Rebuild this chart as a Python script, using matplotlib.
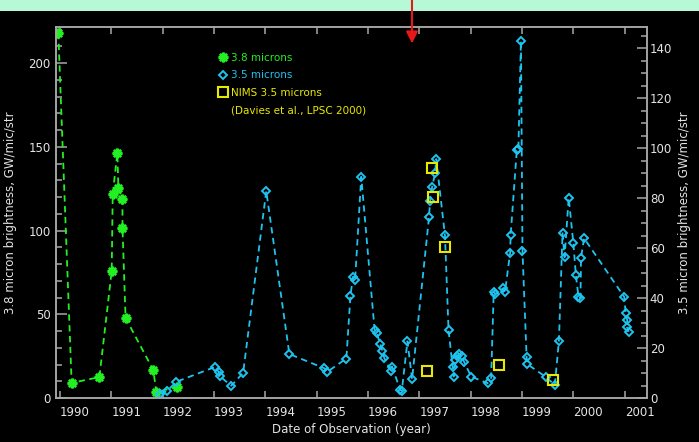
import matplotlib
matplotlib.use('Agg')
import matplotlib.pyplot as plt
from matplotlib.lines import Line2D
from matplotlib.patches import Rectangle, FancyArrowPatch
from matplotlib.transforms import ScaledTranslation

# 3.8 micron brightness (left axis)
years_38 = [1989.97, 1990.23, 1990.77, 1991.01, 1991.03, 1991.12, 1991.14,
            1991.22, 1991.22, 1991.28, 1991.82, 1991.88, 1992.29]
bright_38 = [218, 9, 12.5, 75.8, 121.8, 146.3, 125.4,
             118.8, 101.5, 47.8, 16.7, 3.6, 6.6]

# 3.5 micron brightness (right axis)
years_35 = [1991.96, 1992.09, 1992.27, 1993.03, 1993.09, 1993.11, 1993.34,
            1993.57, 1994.02, 1994.47, 1995.15, 1995.21, 1995.58, 1995.66,
            1995.71, 1995.75, 1995.87, 1996.13, 1996.17, 1996.24, 1996.28,
            1996.32, 1996.45, 1996.47, 1996.63, 1996.66, 1996.77, 1996.86,
            1997.19, 1997.21, 1997.25, 1997.31, 1997.33, 1997.50, 1997.57,
            1997.65, 1997.67, 1997.70, 1997.73, 1997.78, 1997.83, 1997.87,
            1998.01, 1998.33, 1998.40, 1998.45, 1998.48, 1998.64, 1998.67,
            1998.77, 1998.78, 1998.90, 1998.93, 1998.98, 1999.01, 1999.09,
            1999.10, 1999.46, 1999.64, 1999.72, 1999.79, 1999.83, 1999.91,
            2000.00, 2000.05, 2000.10, 2000.14, 2000.15, 2000.21, 2000.99,
            2001.02, 2001.05, 2001.04, 2001.08]
bright_35 = [1.6, 2.9, 6.5, 12.5, 10.5, 8.8, 4.9,
             10.1, 82.8, 17.6, 11.9, 10.5, 15.8, 41.0,
             48.5, 47.2, 88.5, 27.2, 26.0, 21.6, 18.9,
             15.9, 10.9, 12.6, 3.2, 2.9, 22.7, 7.5,
             72.3, 78.8, 84.4, 90.0, 95.6, 65.1, 27.2,
             12.5, 8.6, 15.2, 16.8, 17.6, 16.8, 14.6,
             8.6, 5.9, 8.1, 42.5, 41.6, 44.0, 42.5,
             58.2, 65.4, 99.2, 99.6, 142.9, 58.8, 16.5,
             13.6, 8.5, 5.2, 23.0, 65.9, 56.3, 80.1,
             62.1, 49.2, 40.5, 40.1, 56.1, 63.9, 40.5,
             33.9, 31.2, 28.5, 26.5]

# NIMS 3.5 micron values (Davies et al., LPSC 2000)
years_nims = [1997.15, 1997.25, 1997.26, 1997.50, 1998.56, 1999.61]
bright_nims = [10.9, 91.9, 80.5, 60.3, 13.2, 7.2]

year_ticks = list(range(1990, 2002))
left_ticks = [0, 50, 100, 150, 200]
right_ticks = [0, 20, 40, 60, 80, 100, 120, 140]

green = "#22f022"
cyan = "#1ec4f0"
yellow = "#e8e800"
frame = "#a8a8a8"
txt = "#e4e4e4"

fig = plt.figure(figsize=(6.99, 4.42), dpi=100, facecolor="black")
# mint strip across the top of the picture
fig.patches.append(Rectangle((0, 0.975), 1, 0.025, transform=fig.transFigure,
                             facecolor="#b6f9d6", edgecolor="none", zorder=0))

ax = fig.add_axes([0.0801, 0.0995, 0.8455, 0.8394], facecolor="black")
ax2 = ax.twinx()

dash = (0, (3.5, 2.5))
ax.plot(years_38, bright_38, color=green, lw=1.3, linestyle=dash,
        marker=(8, 2, 0), ms=7, mew=1.8, mec=green, label="3.8 microns")
ax2.plot(years_35, bright_35, color=cyan, lw=1.3, linestyle=dash,
         marker="D", ms=4, mew=1.4, mec=cyan, mfc="none", label="3.5 microns")
ax2.plot(years_nims, bright_nims, ls="none", marker="s", ms=7, mew=1.5,
         mec=yellow, mfc="none", label="NIMS 3.5 microns")

ax.set_xlim(1989.925, 2001.435)
ax.set_ylim(0, 221.5)
ax2.set_ylim(0, 148.4)

ax.set_xticks(year_ticks)
ax.set_xticklabels([str(y) for y in year_ticks], ha="left")
for lab in ax.get_xticklabels():
    lab.set_transform(lab.get_transform() + ScaledTranslation(-0.05, 0, fig.dpi_scale_trans))
ax.set_yticks(left_ticks)
ax.set_yticks(range(0, 221, 10), minor=True)
ax2.set_yticks(right_ticks)
ax2.set_yticks(range(0, 146, 5), minor=True)

ax.tick_params(axis="x", which="major", direction="in", length=5, width=1.1,
               top=True, bottom=True, colors=frame, labelcolor=txt,
               labelsize=8.5, pad=6)
ax.tick_params(axis="y", which="major", direction="in", length=8, width=1.1,
               left=True, right=False, colors=frame, labelcolor=txt,
               labelsize=8.5, pad=4)
ax.tick_params(axis="y", which="minor", direction="in", length=4.5, width=1.1,
               left=True, right=False, colors=frame)
ax2.tick_params(axis="y", which="major", direction="in", length=7, width=1.1,
                colors=frame, labelcolor=txt, labelsize=8.5, pad=2)
ax2.tick_params(axis="y", which="minor", direction="in", length=4.5, width=1.1,
                colors=frame)

for a in (ax, ax2):
    for sp in a.spines.values():
        sp.set_color(frame)
        sp.set_linewidth(1.1)

ax.set_xlabel("Date of Observation (year)", color=txt, fontsize=8.5)
ax.xaxis.set_label_coords(0.5, -0.068)
ax.set_ylabel("3.8 micron brightness, GW/mic/str", color=txt, fontsize=8.5)
ax.yaxis.set_label_coords(-0.066, 0.5)
ax2.set_ylabel("3.5 micron brightness, GW/mic/str", color=txt, fontsize=8.5,
               rotation=90)
ax2.yaxis.set_label_coords(1.0525, 0.5)

# legend block
handles = [
    Line2D([], [], ls="none", marker=(8, 2, 0), ms=7, mew=1.8, color=green),
    Line2D([], [], ls="none", marker="D", ms=4, mew=1.4, mec=cyan, mfc="none"),
    Line2D([], [], ls="none", marker="s", ms=7, mew=1.5, mec=yellow, mfc="none"),
    Line2D([], [], ls="none", marker=None),
]
labels = ["3.8 microns", "3.5 microns", "NIMS 3.5 microns",
          "(Davies et al., LPSC 2000)"]
leg = ax2.legend(handles, labels, loc="upper left", bbox_to_anchor=(0.276, 0.93),
                 frameon=False, fontsize=7.5, handlelength=0.8,
                 handletextpad=0.3, labelspacing=0.72, borderpad=0,
                 borderaxespad=0, labelcolor=[green, cyan, yellow, yellow])

# red arrow from the top edge
fig.patches.append(FancyArrowPatch(
    (0.5894, 1.0), (0.5894, 0.9016), transform=fig.transFigure,
    arrowstyle="-|>,head_length=0.5,head_width=0.25", color="#e81818", lw=1.5,
    mutation_scale=14, shrinkA=0, shrinkB=0))

fig.savefig("out.png", dpi=100, facecolor="black")
